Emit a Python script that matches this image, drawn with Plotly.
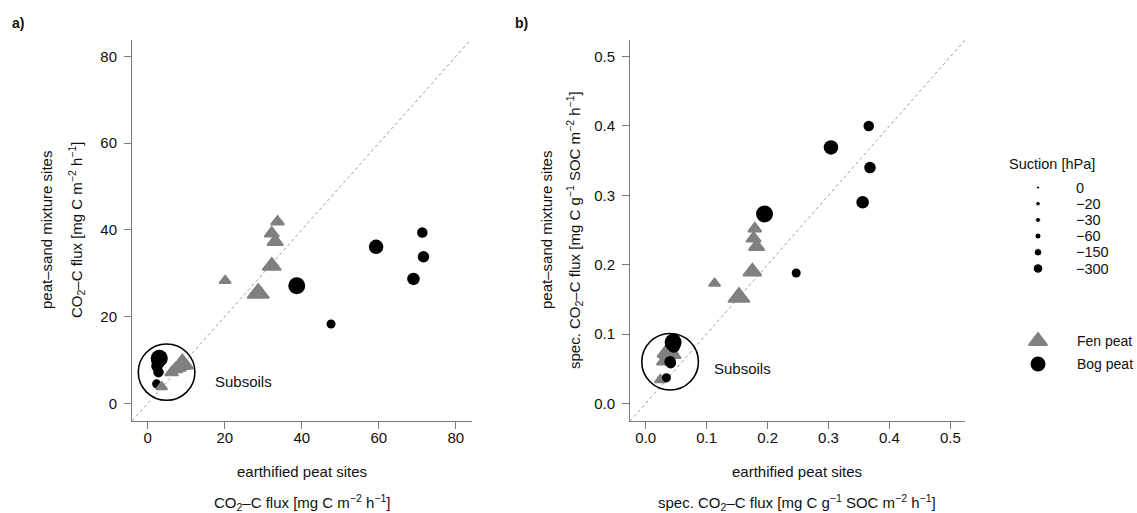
import plotly.graph_objects as go

# ---------------- data ----------------
suction_levels = [0, -20, -30, -60, -150, -300]
suction_labels = ["0", "−20", "−30", "−60", "−150", "−300"]

# Panel a: CO2-C flux [mg C m-2 h-1]  (earthified x, peat-sand y), ordered by suction level
fen_top_a_x = [20.1, 33.7, 32.2, 33.1, 32.2, 28.7]
fen_top_a_y = [28.3, 41.9, 39.2, 37.3, 31.7, 25.4]
bog_top_a_x = [47.6, 71.3, 71.6, 69.0, 59.3, 38.7]
bog_top_a_y = [18.3, 39.4, 33.8, 28.7, 36.1, 27.1]
fen_sub_a_x = [3.6, 6.2, 7.2, 7.9, 8.6, 9.0]
fen_sub_a_y = [3.8, 7.1, 7.9, 8.3, 8.8, 9.1]
bog_sub_a_x = [2.3, 2.8, 2.4, 2.8, 2.8, 3.0]
bog_sub_a_y = [4.5, 7.2, 8.6, 9.4, 9.9, 10.4]

# Panel b: specific CO2-C flux [mg C g-1 SOC m-2 h-1]
fen_top_b_x = [0.113, 0.179, 0.177, 0.182, 0.175, 0.153]
fen_top_b_y = [0.173, 0.252, 0.238, 0.226, 0.190, 0.153]
bog_top_b_x = [0.247, 0.366, 0.368, 0.356, 0.304, 0.195]
bog_top_b_y = [0.188, 0.400, 0.340, 0.290, 0.369, 0.273]
fen_sub_b_x = [0.024, 0.029, 0.036, 0.032, 0.038, 0.040]
fen_sub_b_y = [0.034, 0.060, 0.065, 0.072, 0.077, 0.072]
bog_sub_b_x = [0.034, 0.041, 0.040, 0.046, 0.044, 0.045]
bog_sub_b_y = [0.037, 0.058, 0.060, 0.082, 0.086, 0.088]

# ---------------- style ----------------
W, H = 1137, 513
FONT = "Liberation Sans, Arial, Helvetica, sans-serif"
GRAY = "#808080"
AXC = "#7a7a7a"
TXT = "#111111"
circle_px = [9, 10.5, 11.5, 12.5, 14.5, 17]
tri_px = [s * 1.1 for s in circle_px]
legend_px = [3, 4.5, 5, 6, 7.5, 9.5]


def fx(px):
    return px / W


def fy(py):
    return 1 - py / H


fig = go.Figure()


def add_points(xs, ys, kind, xa, ya):
    if kind == "fen":
        fig.add_trace(go.Scatter(
            x=xs, y=ys, mode="markers", xaxis=xa, yaxis=ya, showlegend=False,
            hoverinfo="skip",
            marker=dict(symbol="triangle-up", size=tri_px, color=GRAY, opacity=1,
                        line=dict(width=1.8, color=GRAY))))
    else:
        fig.add_trace(go.Scatter(
            x=xs, y=ys, mode="markers", xaxis=xa, yaxis=ya, showlegend=False,
            hoverinfo="skip",
            marker=dict(symbol="circle", size=circle_px, color="black", opacity=1,
                        line=dict(width=0))))


ranges = {
    "a": dict(x=[-4.08, 84.2], y=[-4.0, 83.8]),
    "b": dict(x=[-0.0258, 0.524], y=[-0.025, 0.524]),
}

# 1:1 lines
for key, xa, ya in [("a", "x", "y"), ("b", "x2", "y2")]:
    lo = min(ranges[key]["x"][0], ranges[key]["y"][0]) * 2
    hi = max(ranges[key]["x"][1], ranges[key]["y"][1]) * 1.2
    fig.add_trace(go.Scatter(x=[lo, hi], y=[lo, hi], mode="lines", xaxis=xa, yaxis=ya,
                             showlegend=False, hoverinfo="skip",
                             line=dict(color="#9a9a9a", width=1, dash="dot")))

add_points(bog_top_a_x, bog_top_a_y, "bog", "x", "y")
add_points(fen_top_a_x, fen_top_a_y, "fen", "x", "y")
add_points(bog_sub_a_x, bog_sub_a_y, "bog", "x", "y")
add_points(fen_sub_a_x, fen_sub_a_y, "fen", "x", "y")

add_points(bog_top_b_x, bog_top_b_y, "bog", "x2", "y2")
add_points(fen_top_b_x, fen_top_b_y, "fen", "x2", "y2")
add_points(fen_sub_b_x, fen_sub_b_y, "fen", "x2", "y2")
add_points(bog_sub_b_x, bog_sub_b_y, "bog", "x2", "y2")

# ---------------- legend (drawn on a hidden pixel-space axis) ----------------
leg_x = 1038
row0, row_gap = 187.5, 16.2
fig.add_trace(go.Scatter(
    x=[leg_x] * len(suction_levels),
    y=[row0 + i * row_gap for i in range(len(suction_levels))],
    mode="markers", xaxis="x3", yaxis="y3", showlegend=False, hoverinfo="skip",
    marker=dict(symbol="circle", size=legend_px, color="black", opacity=1)))
fen_leg_y, bog_leg_y = 341, 364
fig.add_trace(go.Scatter(x=[leg_x], y=[fen_leg_y], mode="markers", xaxis="x3", yaxis="y3",
                         showlegend=False, hoverinfo="skip",
                         marker=dict(symbol="triangle-up", size=16, color=GRAY, opacity=1,
                                     line=dict(width=1.8, color=GRAY))))
fig.add_trace(go.Scatter(x=[leg_x], y=[bog_leg_y], mode="markers", xaxis="x3", yaxis="y3",
                         showlegend=False, hoverinfo="skip",
                         marker=dict(symbol="circle", size=15, color="black", opacity=1)))

annotations = []
annotations.append(dict(x=1007, y=164, xref="x3", yref="y3", text="Suction [hPa]",
                        showarrow=False, xanchor="left", yanchor="middle",
                        font=dict(size=14.5, color=TXT, family=FONT)))
for i, lab in enumerate(suction_labels):
    annotations.append(dict(x=1074, y=row0 + i * row_gap, xref="x3", yref="y3", text=lab,
                            showarrow=False, xanchor="left", yanchor="middle",
                            font=dict(size=14.5, color=TXT, family=FONT)))
annotations.append(dict(x=1075, y=fen_leg_y, xref="x3", yref="y3", text="Fen peat",
                        showarrow=False, xanchor="left", yanchor="middle",
                        font=dict(size=14, color=TXT, family=FONT)))
annotations.append(dict(x=1075, y=bog_leg_y, xref="x3", yref="y3", text="Bog peat",
                        showarrow=False, xanchor="left", yanchor="middle",
                        font=dict(size=14, color=TXT, family=FONT)))

# axis titles
flux_unit = "CO<sub>2</sub>–C flux [mg C m<sup>−2</sup> h<sup>−1</sup>]"
spec_unit = "spec. CO<sub>2</sub>–C flux [mg C g<sup>−1</sup> SOC m<sup>−2</sup> h<sup>−1</sup>]"
for cx, unit in [(302, flux_unit), (797, spec_unit)]:
    annotations.append(dict(x=cx, y=471.5, xref="x3", yref="y3", text="earthified peat sites",
                            showarrow=False, xanchor="center", yanchor="middle",
                            font=dict(size=15, color=TXT, family=FONT)))
    annotations.append(dict(x=cx, y=502, xref="x3", yref="y3", text=unit,
                            showarrow=False, xanchor="center", yanchor="middle",
                            font=dict(size=15, color=TXT, family=FONT)))
for lx1, lx2, unit in [(46, 76, flux_unit), (546, 574, spec_unit)]:
    annotations.append(dict(x=lx1, y=230, xref="x3", yref="y3", text="peat–sand mixture sites",
                            showarrow=False, xanchor="center", yanchor="middle", textangle=-90,
                            font=dict(size=15, color=TXT, family=FONT)))
    annotations.append(dict(x=lx2, y=230, xref="x3", yref="y3", text=unit,
                            showarrow=False, xanchor="center", yanchor="middle", textangle=-90,
                            font=dict(size=15, color=TXT, family=FONT)))

# panel labels
annotations.append(dict(x=18, y=23, xref="x3", yref="y3", text="<b>a)</b>", showarrow=False,
                        xanchor="center", yanchor="middle",
                        font=dict(size=14, color=TXT, family=FONT)))
annotations.append(dict(x=521, y=23, xref="x3", yref="y3", text="<b>b)</b>", showarrow=False,
                        xanchor="center", yanchor="middle",
                        font=dict(size=14, color=TXT, family=FONT)))

# Subsoils labels
annotations.append(dict(x=17.0, y=5.0, xref="x", yref="y", text="Subsoils", showarrow=False,
                        xanchor="left", yanchor="middle",
                        font=dict(size=15, color=TXT, family=FONT)))
annotations.append(dict(x=0.108, y=0.0505, xref="x2", yref="y2", text="Subsoils",
                        showarrow=False, xanchor="left", yanchor="middle",
                        font=dict(size=15, color=TXT, family=FONT)))

shapes = [
    dict(type="circle", xref="x", yref="y", x0=4.9 - 7.35, x1=4.9 + 7.35,
         y0=7.2 - 6.5, y1=7.2 + 6.5, line=dict(color="black", width=1.6)),
    dict(type="circle", xref="x2", yref="y2", x0=0.040 - 0.0465, x1=0.040 + 0.0465,
         y0=0.060 - 0.0408, y1=0.060 + 0.0408, line=dict(color="black", width=1.6)),
]


def axis_style(**kw):
    d = dict(showgrid=False, zeroline=False, showline=True, linecolor=AXC, linewidth=1,
             ticks="outside", ticklen=7, tickcolor=AXC, tickwidth=1,
             tickfont=dict(size=15, color=TXT, family=FONT), fixedrange=True)
    d.update(kw)
    return d


y_top = fy(40)
y_bot = fy(420.7)
fig.update_layout(
    width=W, height=H,
    margin=dict(l=0, r=0, t=0, b=0),
    paper_bgcolor="white", plot_bgcolor="rgba(0,0,0,0)",
    font=dict(family=FONT, size=15, color=TXT),
    xaxis=axis_style(domain=[fx(132), fx(472)], anchor="y", range=ranges["a"]["x"],
                     tickvals=[0, 20, 40, 60, 80], ticklabelstandoff=-4),
    yaxis=axis_style(domain=[y_bot, y_top], anchor="x", range=ranges["a"]["y"],
                     tickvals=[0, 20, 40, 60, 80], ticklabelstandoff=4),
    xaxis2=axis_style(domain=[fx(630), fx(965)], anchor="y2", range=ranges["b"]["x"],
                      tickvals=[0, 0.1, 0.2, 0.3, 0.4, 0.5], tickformat=".1f",
                      ticklabelstandoff=-4),
    yaxis2=axis_style(domain=[y_bot, y_top], anchor="x2", range=ranges["b"]["y"],
                      tickvals=[0, 0.1, 0.2, 0.3, 0.4, 0.5], tickformat=".1f",
                      ticklabelstandoff=4),
    xaxis3=dict(domain=[0, 1], anchor="y3", range=[0, W], visible=False, fixedrange=True),
    yaxis3=dict(domain=[0, 1], anchor="x3", range=[H, 0], visible=False, fixedrange=True),
    annotations=annotations,
    shapes=shapes,
)

# remove the default page margin so the 1137x513 figure fills the window exactly
fig.write_html(
    "out.html",
    config={"displayModeBar": False, "staticPlot": True},
    post_script="document.documentElement.style.margin='0';"
                "document.body.style.margin='0';document.body.style.overflow='hidden';",
)
